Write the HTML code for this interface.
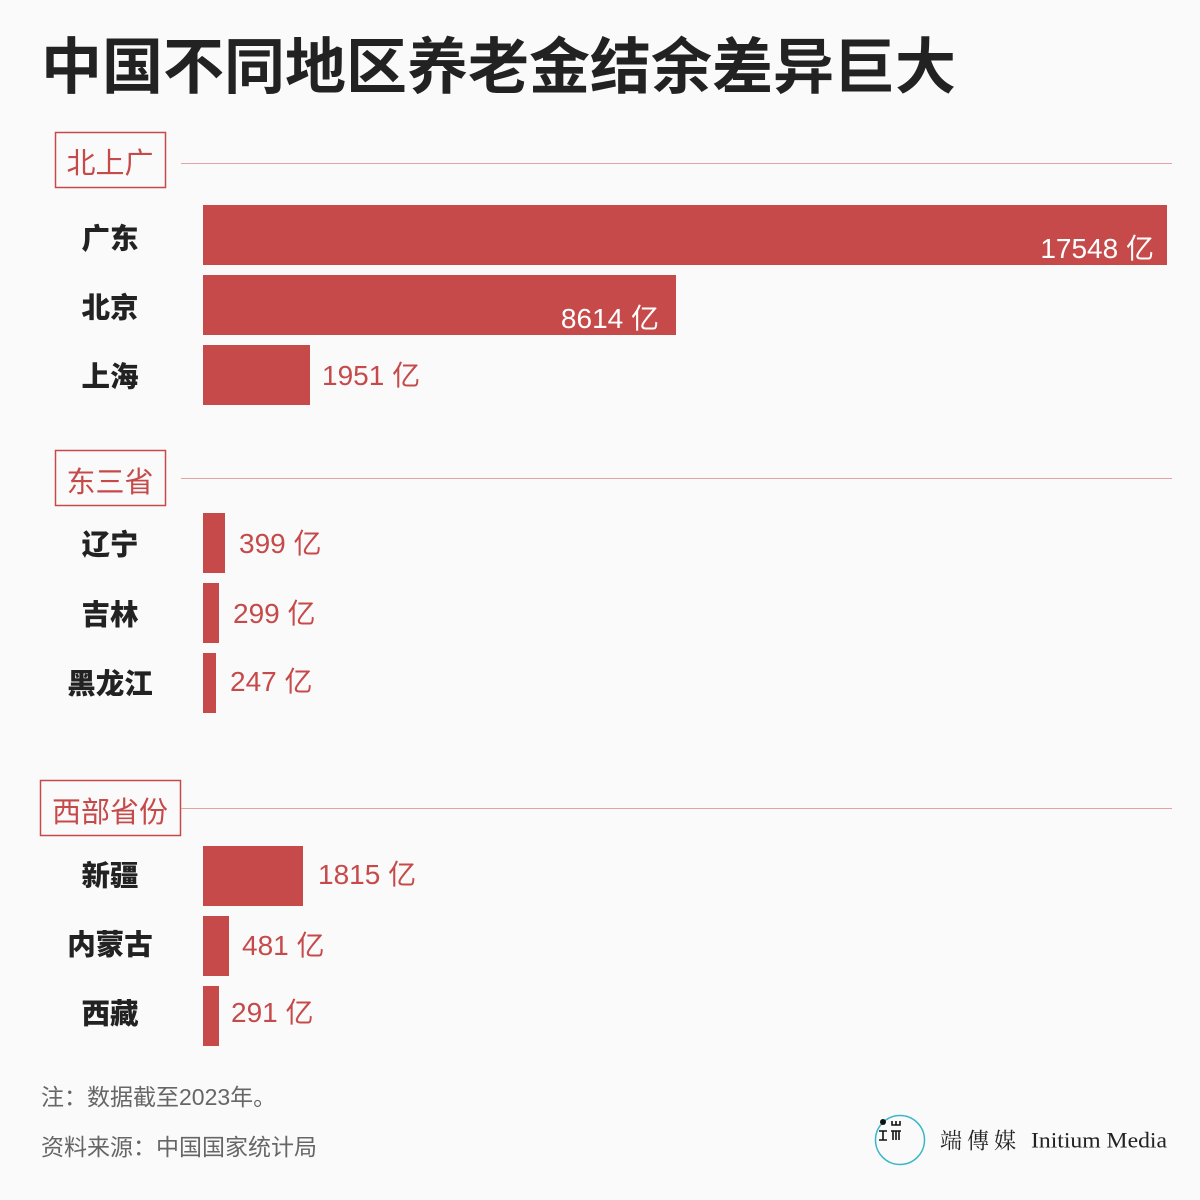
<!DOCTYPE html>
<html><head><meta charset="utf-8">
<style>
html,body{margin:0;padding:0;background:#fafafa;}
svg{display:block;}
.t{font-family:"Liberation Sans","Noto Sans CJK SC",sans-serif;}
</style></head>
<body>
<svg width="1200" height="1200" viewBox="0 0 1200 1200" xmlns="http://www.w3.org/2000/svg">
<rect width="1200" height="1200" fill="#fafafa"/>
<text class="t" x="41" y="67" dominant-baseline="central" font-size="61" font-weight="bold" fill="#222" font-family="Noto Sans CJK SC, sans-serif">中国不同地区养老金结余差异巨大</text>

<!-- Section 1 -->
<rect x="55.5" y="132.5" width="110" height="55" fill="none" stroke="#c64a4a" stroke-width="1.5"/>
<text x="110" y="161" text-anchor="middle" dominant-baseline="central" font-size="29" fill="#c64a4a" font-family="Noto Sans CJK SC, sans-serif">北上广</text>
<line x1="181" y1="163.5" x2="1172" y2="163.5" stroke="#e2a3a3" stroke-width="1"/>

<g font-family="Noto Sans CJK SC, sans-serif" font-weight="900" font-size="28.5" fill="#222" text-anchor="middle">
<text x="110" y="237" dominant-baseline="central">广东</text>
<text x="110" y="306" dominant-baseline="central">北京</text>
<text x="110" y="375" dominant-baseline="central">上海</text>
<text x="110" y="543" dominant-baseline="central">辽宁</text>
<text x="110" y="613" dominant-baseline="central">吉林</text>
<text x="110" y="682" dominant-baseline="central">黑龙江</text>
<text x="110" y="874" dominant-baseline="central">新疆</text>
<text x="110" y="943" dominant-baseline="central">内蒙古</text>
<text x="110" y="1012" dominant-baseline="central">西藏</text>
</g>

<g fill="#c64a4a">
<rect x="203" y="205" width="964" height="60"/>
<rect x="203" y="275" width="473" height="60"/>
<rect x="203" y="345" width="107" height="60"/>
<rect x="203" y="513" width="22" height="60"/>
<rect x="203" y="583" width="16" height="60"/>
<rect x="203" y="653" width="13" height="60"/>
<rect x="203" y="846" width="100" height="60"/>
<rect x="203" y="916" width="26" height="60"/>
<rect x="203" y="986" width="16" height="60"/>
</g>

<g class="t" font-size="28" fill="#fff" text-anchor="end">
<text x="1154" y="258">17548 亿</text>
<text x="659" y="328">8614 亿</text>
</g>
<g class="t" font-size="28" fill="#c64a4a">
<text x="322" y="385">1951 亿</text>
<text x="239" y="553">399 亿</text>
<text x="233" y="623">299 亿</text>
<text x="230" y="691">247 亿</text>
<text x="318" y="884">1815 亿</text>
<text x="242" y="955">481 亿</text>
<text x="231" y="1022">291 亿</text>
</g>

<!-- Section 2 -->
<rect x="55.5" y="450.5" width="110" height="55" fill="none" stroke="#c64a4a" stroke-width="1.5"/>
<text x="110" y="480" text-anchor="middle" dominant-baseline="central" font-size="29" fill="#c64a4a" font-family="Noto Sans CJK SC, sans-serif">东三省</text>
<line x1="181" y1="478.5" x2="1172" y2="478.5" stroke="#e2a3a3" stroke-width="1"/>

<!-- Section 3 -->
<rect x="40.5" y="780.5" width="140" height="55" fill="none" stroke="#c64a4a" stroke-width="1.5"/>
<text x="110" y="810" text-anchor="middle" dominant-baseline="central" font-size="29" fill="#c64a4a" font-family="Noto Sans CJK SC, sans-serif">西部省份</text>
<line x1="181" y1="808.5" x2="1172" y2="808.5" stroke="#e2a3a3" stroke-width="1"/>

<!-- Footer -->
<text class="t" x="41" y="1097" dominant-baseline="central" font-size="23" fill="#666">注：数据截至2023年。</text>
<text class="t" x="41" y="1147" dominant-baseline="central" font-size="23" fill="#666">资料来源：中国国家统计局</text>

<!-- Logo -->
<circle cx="900" cy="1140" r="24.5" fill="none" stroke="#3bb6c8" stroke-width="1.5"/>
<circle cx="883" cy="1122" r="3" fill="#111"/>
<g stroke="#111" stroke-width="1.6" fill="none">
<path d="M879 1131 h8 M883 1131 v9 M879 1140 h8"/>
<path d="M892 1121 v4 h8 v-4 M896 1121 v4"/>
<path d="M891 1131 h10 M893 1131 v9 M899 1131 v9 M896 1131 v9"/>
</g>
<text x="940" y="1140" dominant-baseline="central" font-size="22" fill="#222" font-family="Noto Serif CJK SC, serif" letter-spacing="5">端傳媒</text>
<text x="1031" y="1140" dominant-baseline="central" font-size="22" fill="#222" font-family="Liberation Serif, serif" textLength="136" lengthAdjust="spacingAndGlyphs">Initium Media</text>
</svg>
</body></html>
